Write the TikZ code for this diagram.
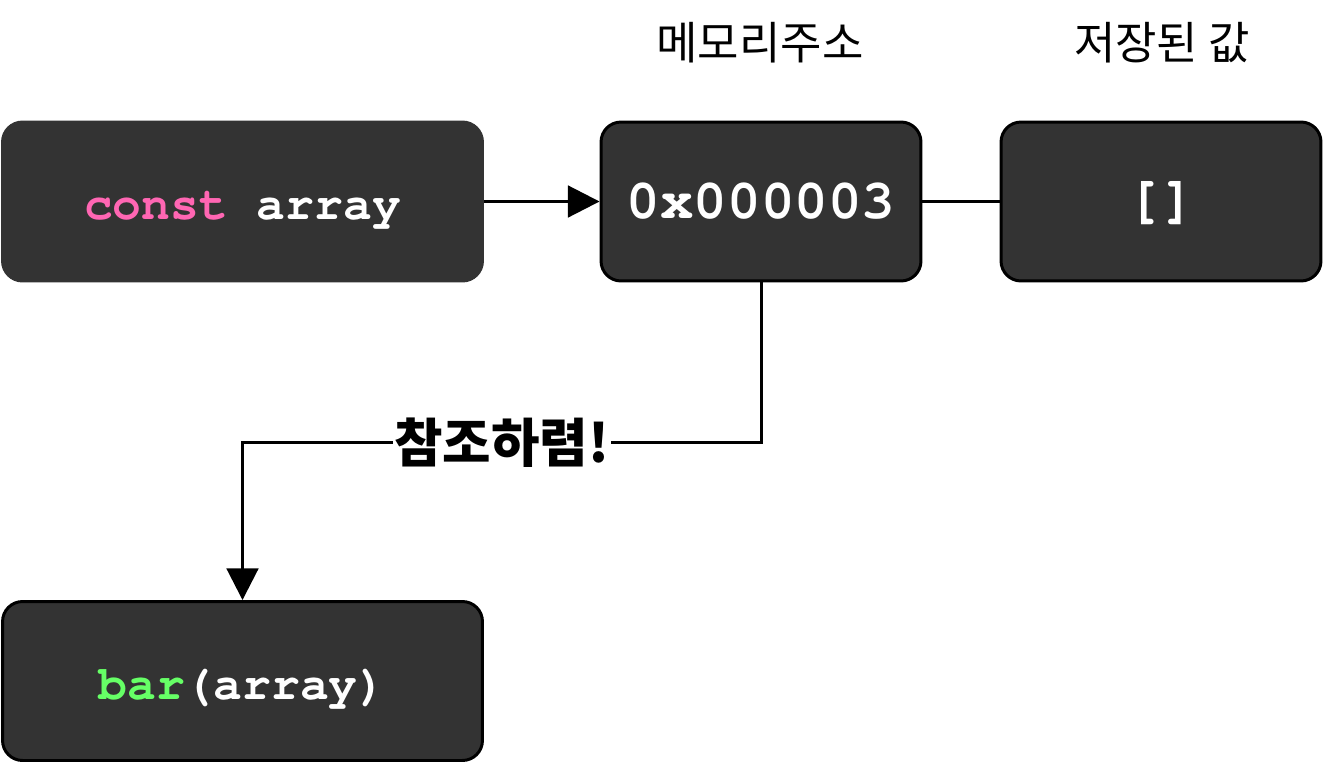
\documentclass[tikz,border=0pt]{standalone}
\usepackage[T1]{fontenc}
\usepackage{fontspec}
\usetikzlibrary{positioning}
\usetikzlibrary{arrows.meta}
\newcommand\codefont{\fontencoding{T1}\fontfamily{pcr}\selectfont}
\newfontfamily\krfont{Noto Sans CJK KR}
\definecolor{boxdark}{HTML}{333333}
\definecolor{kwpink}{HTML}{FF66B3}
\definecolor{fngreen}{HTML}{66FF66}

\begin{document}
\begin{tikzpicture}[x=0.02cm, y=-0.02cm,
line width=1.7pt,
every node/.style = {inner sep=0pt},
membox/.style = {shape=rectangle, draw=black, fill=boxdark, rounded corners=0.4cm,
  minimum width=6.4cm, minimum height=3.18cm, text=white,
  font=\codefont\bfseries\fontsize{31.8}{36}\selectfont},
codebox/.style = {membox, minimum width=9.6cm, text height=26pt, text depth=5pt,
  font=\codefont\bfseries\fontsize{27.3}{32}\selectfont},
header/.style = {font=\krfont\fontsize{25.6}{30}\selectfont},
linklabel/.style = {fill=white, inner xsep=1pt, font=\krfont\bfseries\fontsize{30}{34}\selectfont},
link/.style = {-{Triangle[length=18pt, width=18pt]}}
]
\useasboundingbox (0,0) rectangle (1328,768);

% boxes
\node (decl) [codebox, draw=boxdark] at (242.5,201.5) {\textcolor{kwpink}{const} array};
\node (addr) [membox] at (761,201.5) {0x000003};
\node (value) [membox] at (1161,201.5) {[]};
\node (call) [codebox] at (242.5,681) {\textcolor{fngreen}{bar}(array)};

% headers
\node (addrhead) [header] at (760,43) {메모리주소};
\node (valuehead) [header] at (1162,43) {저장된 값};

% connectors
\draw [link] (decl) -- (addr);
\draw (addr) -- (value);
\draw [link] (addr.south) -- ++(0,160) -| node [linklabel, pos=0.25] {참조하렴!} (call.north);

\end{tikzpicture}
\end{document}
